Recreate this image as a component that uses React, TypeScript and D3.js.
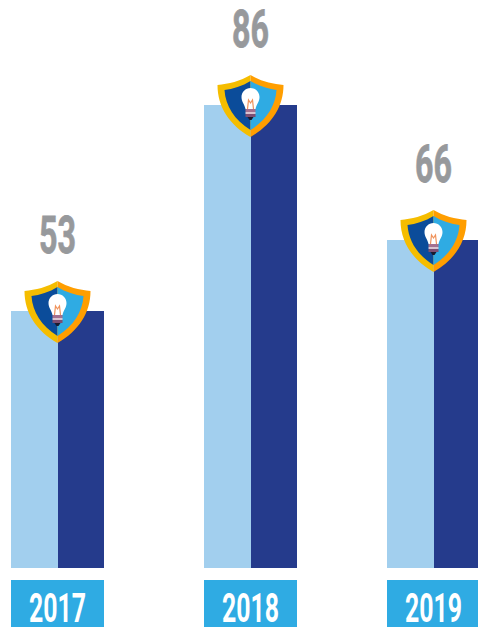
import React from 'react';
import * as d3 from 'd3';

const years = ['2017', '2018', '2019'];
const values = [53, 86, 66];

const width = 478;
const height = 627;
const baseline = 568;
const leftHalf = 47;
const rightHalf = 46;
const condensed = '"Liberation Sans Narrow", "Roboto", sans-serif';

// the bars in the picture are not drawn to a true linear scale, so it is read off per value
const y = d3.scaleLinear().domain([0, 53, 66, 86]).range([baseline, 311, 240, 105]);
// the columns are not evenly spaced either
const x = d3.scaleOrdinal<string, number>().domain(years).range([58, 251, 434]);

const Shield = ({ cx, cy }: { cx: number; cy: number }) => (
  <g transform={`translate(${cx - 0.5},${cy})`}>
    {/* outer rim */}
    <path d="M0,-30 C-10,-24 -22,-21 -33,-20 C-33,2 -21,20 0,32 Z" fill="#F5BD00" />
    <path d="M0,-30 C10,-24 22,-21 33,-20 C33,2 21,20 0,32 Z" fill="#FF9E00" />
    {/* inner */}
    <path d="M0,-24 C-8,-19 -18,-16 -26,-15 C-25,1 -16,15 0,25 Z" fill="#0B4C9A" />
    <path d="M0,-24 C8,-19 18,-16 26,-15 C25,1 16,15 0,25 Z" fill="#2FABE3" />
    {/* bulb */}
    <path d="M-5,4 C-6,-1 -9,-3 -9,-8 C-9,-13 -5,-17 0,-17 C5,-17 9,-13 9,-8 C9,-3 6,-1 5,4 Z" fill="#FFFFFF" />
    <path d="M-3,4 L-2,-5 L0,-2 L2,-5 L3,4" fill="none" stroke="#F0925A" strokeWidth={1.2} />
    <rect x={-5} y={4} width={10} height={3} fill="#A4708F" />
    <rect x={-5} y={7} width={10} height={2} fill="#D9C3D0" />
    <rect x={-5} y={9} width={10} height={3} fill="#7C4E73" />
    <path d="M-3,12 L3,12 L1,15 L-1,15 Z" fill="#1A1A2E" />
  </g>
);

export default function App() {
  return (
    <svg width={width} height={height} style={{ position: 'absolute', left: 0, top: 0, background: '#fff' }}>
      {years.map((year, i) => {
        const cx = x(year);
        const top = y(values[i]);
        return (
          <g key={year}>
            <rect x={cx - leftHalf} y={top} width={leftHalf} height={baseline - top} fill="#A2CFEE" />
            <rect x={cx} y={top} width={rightHalf} height={baseline - top} fill="#253B8C" />
            <Shield cx={cx} cy={top} />
            <text
              x={cx - 0.5}
              y={top - 58}
              textAnchor="middle"
              fontFamily={condensed}
              fontWeight={700}
              fontSize={52}
              textLength={37}
              lengthAdjust="spacingAndGlyphs"
              fill="#97999C"
              stroke="#97999C"
              strokeWidth={0.8}
            >
              {values[i]}
            </text>
            <rect x={cx - leftHalf} y={580} width={leftHalf + rightHalf} height={47} fill="#2FABE3" />
            <text
              x={cx - 0.5}
              y={622}
              textAnchor="middle"
              fontFamily={condensed}
              fontWeight={700}
              fontSize={40}
              textLength={57}
              lengthAdjust="spacingAndGlyphs"
              fill="#FFFFFF"
            >
              {year}
            </text>
          </g>
        );
      })}
    </svg>
  );
}
